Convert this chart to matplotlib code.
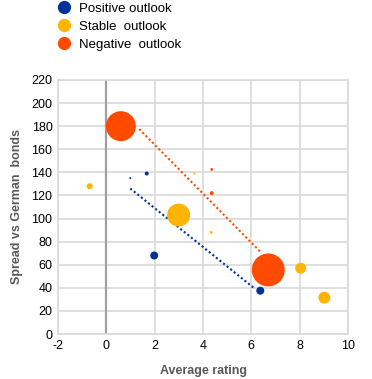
import matplotlib
matplotlib.use("Agg")
import matplotlib.pyplot as plt
from matplotlib.lines import Line2D

plt.rcParams['font.family'] = ['Liberation Sans', 'DejaVu Sans']
plt.rcParams['axes.unicode_minus'] = False

# bubbles per outlook: average rating, spread (bp), bubble weight
pos_x = [1.98, 6.37, 1.67, 0.99]
pos_y = [68, 37.5, 139, 135]
pos_w = [16, 16, 4, 1]

stab_x = [2.99, 8.04, 9.02, -0.69, 4.34, 3.65]
stab_y = [103, 57, 31.5, 128, 88, 139]
stab_w = [132, 30, 36, 9, 2, 1]

neg_x = [0.6, 6.7, 4.36, 4.36]
neg_y = [180, 55.5, 122, 142.5]
neg_w = [225, 272, 4, 2]

# trend lines (start/end)
pos_trend_x = [0.99, 6.1]
pos_trend_y = [126, 40]
neg_trend_x = [1.36, 6.43]
neg_trend_y = [177.5, 70]

c_pos = '#003299'
c_stab = '#FFB400'
c_neg = '#FF4B00'

fig = plt.figure(figsize=(3.72, 3.79), dpi=100)
ax = fig.add_axes([0.156, 0.1187, 0.7795, 0.6703])

ax.set_xlim(-2, 10)
ax.set_ylim(0, 220)
ax.set_xticks(range(-2, 11, 2))
ax.set_yticks(range(0, 221, 20))
ax.grid(True, color='#d9d9d9', linewidth=1.2)
ax.set_axisbelow(True)
for s in ax.spines.values():
    s.set_color('#d9d9d9')
    s.set_linewidth(1.2)
ax.tick_params(length=0, labelsize=9, colors='#000000', pad=4)
ax.axvline(0, color='#a0a0a0', linewidth=1.6, zorder=1)

scale = 2.07
ax.plot(pos_trend_x, pos_trend_y, linestyle=(0, (1, 1.2)), color=c_pos, linewidth=1.5, zorder=2)
ax.plot(neg_trend_x, neg_trend_y, linestyle=(0, (1, 1.2)), color=c_neg, linewidth=1.5, zorder=2)
ax.scatter(pos_x, pos_y, s=[w * scale for w in pos_w], color=c_pos, linewidths=0, zorder=3)
ax.scatter(stab_x, stab_y, s=[w * scale for w in stab_w], color=c_stab, linewidths=0, zorder=3)
ax.scatter(neg_x, neg_y, s=[w * scale for w in neg_w], color=c_neg, linewidths=0, zorder=3)

ax.set_xlabel('Average rating', fontsize=9, color='#595959', fontweight='bold', labelpad=10)
ax.set_ylabel('Spread vs German  bonds', fontsize=9, color='#595959', fontweight='bold', labelpad=6)

handles = [
    Line2D([], [], marker='o', linestyle='', color=c_pos, markersize=8.5),
    Line2D([], [], marker='o', linestyle='', color=c_stab, markersize=8.5),
    Line2D([], [], marker='o', linestyle='', color=c_neg, markersize=8.5),
]
fig.legend(handles, ['Positive outlook', 'Stable  outlook', 'Negative  outlook'],
           loc='upper left', bbox_to_anchor=(0.12, 1.025), frameon=False,
           fontsize=9.5, handletextpad=0.5, labelspacing=0.45, handlelength=1.2)

fig.savefig('out.png', dpi=100)
